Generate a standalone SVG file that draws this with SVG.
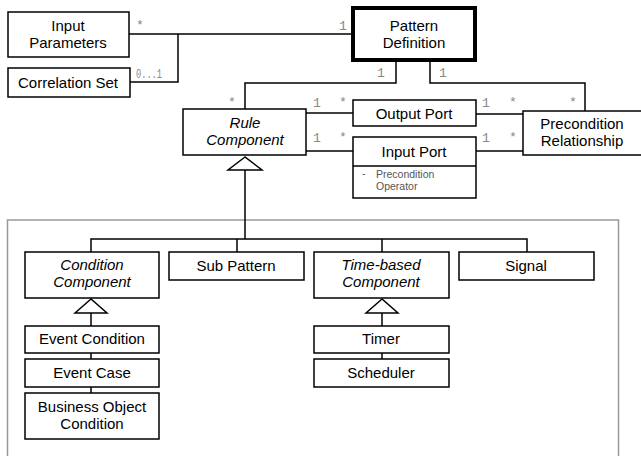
<svg xmlns="http://www.w3.org/2000/svg" width="641" height="456" viewBox="0 0 641 456">
  <style>
    .box { fill: #fff; stroke: #000; stroke-width: 1.5; }
    .bold { fill: #fff; stroke: #000; stroke-width: 4; }
    .lbl { font-family: "Liberation Sans", Arial, sans-serif; font-size: 15px; fill: #000; text-anchor: middle; }
    .it { font-style: italic; }
    .mult { font-family: "Liberation Mono", "Courier New", monospace; font-size: 13px; fill: #888; }
    .attr { font-family: "Liberation Sans", Arial, sans-serif; font-size: 10.5px; fill: #555; }
    .edge { fill: none; stroke: #000; stroke-width: 1.5; }
    .gen { fill: #fff; stroke: #000; stroke-width: 1.5; }
  </style>

  <!-- package frame -->
  <rect x="7.5" y="220" width="611" height="250" fill="none" stroke="#999" stroke-width="1.5"/>

  <g id="connectors">
    <!-- parameters / correlation to pattern definition -->
    <path class="edge" d="M129 34 H352"/>
    <path class="edge" d="M178 34 V82 H130"/>
    <!-- pattern definition to rule component -->
    <path class="edge" d="M396 61 V83 H245 V109"/>
    <!-- pattern definition to precondition relationship -->
    <path class="edge" d="M430 61 V83 H585 V111"/>
    <!-- rule component to ports -->
    <path class="edge" d="M306 113 H353"/>
    <path class="edge" d="M306 151 H353"/>
    <!-- ports to precondition relationship -->
    <path class="edge" d="M476 114 H523"/>
    <path class="edge" d="M476 151 H523"/>
    <!-- generalization tree -->
    <path class="edge" d="M245 170 V239"/>
    <path class="edge" d="M91 252 V239 H527 V252"/>
    <path class="edge" d="M237 239 V252"/>
    <path class="edge" d="M382 239 V252"/>
    <polygon class="gen" points="245,157 228,170 262,170"/>
    <!-- condition component subtree -->
    <path class="edge" d="M91 313 V326 M91 353 V359 M91 387 V393"/>
    <polygon class="gen" points="91,299 75,313 107,313"/>
    <!-- time-based subtree -->
    <path class="edge" d="M382 313 V326 M382 353 V359"/>
    <polygon class="gen" points="382,299 366,313 398,313"/>

    <!-- multiplicities -->
    <text class="mult" x="136" y="29">*</text>
    <text class="mult" x="136" y="78" textLength="26" lengthAdjust="spacingAndGlyphs">0...1</text>
    <text class="mult" x="339" y="30">1</text>
    <text class="mult" x="377" y="77">1</text>
    <text class="mult" x="439" y="77">1</text>
    <text class="mult" x="228" y="106">*</text>
    <text class="mult" x="569" y="106">*</text>
    <text class="mult" x="313" y="107">1</text>
    <text class="mult" x="339" y="106">*</text>
    <text class="mult" x="313" y="142">1</text>
    <text class="mult" x="339" y="141">*</text>
    <text class="mult" x="482" y="107">1</text>
    <text class="mult" x="509" y="106">*</text>
    <text class="mult" x="482" y="142">1</text>
    <text class="mult" x="509" y="141">*</text>
  </g>

  <g id="input-parameters">
    <rect class="box" x="8" y="12" width="121" height="45"/>
    <text class="lbl" x="68" y="31">Input</text>
    <text class="lbl" x="68" y="48">Parameters</text>
  </g>
  <g id="correlation-set">
    <rect class="box" x="8" y="68" width="122" height="29"/>
    <text class="lbl" x="68" y="88">Correlation Set</text>
  </g>
  <g id="pattern-definition">
    <rect class="bold" x="353" y="8" width="122" height="52"/>
    <text class="lbl" x="414" y="31">Pattern</text>
    <text class="lbl" x="414" y="48">Definition</text>
  </g>
  <g id="rule-component">
    <rect class="box" x="183" y="109" width="123" height="46"/>
    <text class="lbl it" x="245" y="128">Rule</text>
    <text class="lbl it" x="245" y="145">Component</text>
  </g>
  <g id="output-port">
    <rect class="box" x="353" y="100" width="123" height="26"/>
    <text class="lbl" x="414" y="119">Output Port</text>
  </g>
  <g id="input-port">
    <rect class="box" x="353" y="137" width="123" height="61"/>
    <line x1="353" y1="166" x2="476" y2="166" stroke="#000" stroke-width="1.5"/>
    <text class="lbl" x="414" y="157">Input Port</text>
    <text class="attr" x="362" y="177">-</text>
    <text class="attr" x="376" y="178">Precondition</text>
    <text class="attr" x="376" y="190">Operator</text>
  </g>
  <g id="precondition-relationship">
    <rect class="box" x="523" y="111" width="120" height="44"/>
    <text class="lbl" x="582" y="129">Precondition</text>
    <text class="lbl" x="582" y="146">Relationship</text>
  </g>
  <g id="condition-component">
    <rect class="box" x="25" y="252" width="134" height="46"/>
    <text class="lbl it" x="92" y="270">Condition</text>
    <text class="lbl it" x="92" y="287">Component</text>
  </g>
  <g id="sub-pattern">
    <rect class="box" x="169" y="252" width="135" height="28"/>
    <text class="lbl" x="236" y="271">Sub Pattern</text>
  </g>
  <g id="time-based-component">
    <rect class="box" x="314" y="252" width="135" height="46"/>
    <text class="lbl it" x="381" y="270">Time-based</text>
    <text class="lbl it" x="381" y="287">Component</text>
  </g>
  <g id="signal">
    <rect class="box" x="459" y="252" width="135" height="28"/>
    <text class="lbl" x="526" y="271">Signal</text>
  </g>
  <g id="event-condition">
    <rect class="box" x="25" y="326" width="134" height="27"/>
    <text class="lbl" x="92" y="344">Event Condition</text>
  </g>
  <g id="event-case">
    <rect class="box" x="25" y="359" width="134" height="28"/>
    <text class="lbl" x="92" y="378">Event Case</text>
  </g>
  <g id="business-object-condition">
    <rect class="box" x="25" y="393" width="134" height="46"/>
    <text class="lbl" x="92" y="412">Business Object</text>
    <text class="lbl" x="92" y="429">Condition</text>
  </g>
  <g id="timer">
    <rect class="box" x="314" y="326" width="135" height="27"/>
    <text class="lbl" x="381" y="344">Timer</text>
  </g>
  <g id="scheduler">
    <rect class="box" x="314" y="359" width="135" height="28"/>
    <text class="lbl" x="381" y="378">Scheduler</text>
  </g>
</svg>
